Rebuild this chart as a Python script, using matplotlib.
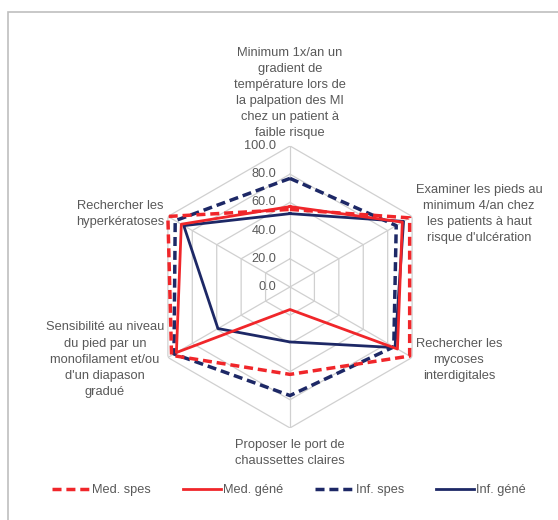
import numpy as np
import matplotlib.pyplot as plt
from matplotlib.patches import Rectangle
from matplotlib.lines import Line2D

plt.rcParams['font.family'] = ['Liberation Sans', 'DejaVu Sans']

# Axes du radar (sens horaire depuis le haut)
categories = [
    "Minimum 1x/an un\ngradient de\ntempérature lors de\nla palpation des MI\nchez un patient à\nfaible risque",
    "Examiner les pieds au\nminimum 4/an chez\nles patients à haut\nrisque d'ulcération",
    "Rechercher les\nmycoses\ninterdigitales",
    "Proposer le port de\nchaussettes claires",
    "Sensibilité au niveau\ndu pied par un\nmonofilament et/ou\nd'un diapason\ngradué",
    "Rechercher les\nhyperkératoses",
]

med_spes = [55, 98, 98, 62, 97, 100]
med_gene = [57, 92, 88, 16, 93, 89]
inf_spes = [77, 87, 85, 77, 95, 94]
inf_gene = [52, 93, 86, 39, 59, 87]

ticks = [0, 20, 40, 60, 80, 100]

red = '#f0262a'
navy = '#1d2866'
grid_col = '#d0d0d0'
txt_col = '#595959'

n = len(categories)
angles = np.linspace(0, 2 * np.pi, n, endpoint=False)
closed = np.append(angles, angles[0])

fig = plt.figure(figsize=(5.58, 5.2), dpi=100)
ax = fig.add_axes([0.267, 0.177, 0.5054, 0.5423], projection='polar')
ax.set_theta_offset(np.pi / 2)
ax.set_theta_direction(-1)
ax.set_ylim(0, 100)
ax.grid(False)
ax.spines['polar'].set_visible(False)
ax.set_xticks([])
ax.set_yticks([])

# grille hexagonale
for t in ticks[1:]:
    ax.plot(closed, [t] * (n + 1), color=grid_col, lw=0.9, zorder=1)
for a in angles:
    ax.plot([a, a], [0, 100], color=grid_col, lw=0.9, zorder=1)

# étiquettes de valeurs
for t in ticks:
    ax.annotate(f"{t:.1f}", xy=(0, t), xytext=(-10, 0), textcoords='offset points',
                ha='right', va='center', fontsize=9.2, color=txt_col)

def close(v):
    return list(v) + [v[0]]

ax.plot(closed, close(inf_gene), color=navy, lw=2.0, zorder=3)
ax.plot(closed, close(inf_spes), color=navy, lw=2.5, dashes=(2.6, 1.4), zorder=3)
ax.plot(closed, close(med_gene), color=red, lw=2.0, zorder=4)
ax.plot(closed, close(med_spes), color=red, lw=2.5, dashes=(2.6, 1.4), zorder=4)

# libellés des axes
lab = dict(fontsize=9.3, color=txt_col, linespacing=1.45, multialignment='center')
ax.text(angles[0], 105, categories[0], ha='center', va='bottom', clip_on=False, **lab)
ax.text(angles[1], 103, categories[1], ha='left', va='center', clip_on=False, **lab)
ax.text(angles[2], 103, categories[2], ha='left', va='center', clip_on=False, **lab)
ax.text(angles[3], 108, categories[3], ha='center', va='top', clip_on=False, **lab)
ax.text(angles[4], 103, categories[4], ha='right', va='center', clip_on=False, **lab)
ax.text(angles[5], 103, categories[5], ha='right', va='center', clip_on=False, **lab)

handles = [
    Line2D([], [], color=red, lw=2.5, dashes=(2.6, 1.4)),
    Line2D([], [], color=red, lw=2.0),
    Line2D([], [], color=navy, lw=2.5, dashes=(2.6, 1.4)),
    Line2D([], [], color=navy, lw=2.0),
]
fig.legend(handles, ['Med. spes', 'Med. géné', 'Inf. spes', 'Inf. géné'],
           loc='center', bbox_to_anchor=(289 / 558, 1 - 490 / 520), ncol=4, frameon=False,
           fontsize=9.2, handlelength=3.0, handletextpad=0.15, columnspacing=2.5,
           labelcolor=txt_col)

# cadre
fig.patches.append(Rectangle((8 / 558, -0.05), 1.2, 1.05 - 12 / 520,
                             transform=fig.transFigure, fill=False,
                             edgecolor='#bfbfbf', lw=1.2))

fig.savefig('out.png', dpi=100)
